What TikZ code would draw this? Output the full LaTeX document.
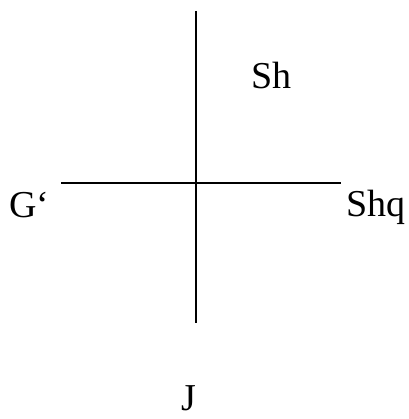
\documentclass[tikz,border=0pt]{standalone}
\usepackage{fontspec}
\setmainfont{Liberation Serif}
\usepackage{tikz}

\begin{document}
\begin{tikzpicture}[x=1pt, y=-1pt, lbl/.style={inner sep=0pt, anchor=base west, font=\fontsize{38}{44}\selectfont}]

\useasboundingbox (0,0) rectangle (408,419);

% axis ends
\coordinate (top) at (196, 11);
\coordinate (bottom) at (196, 323);
\coordinate (left) at (61, 183);
\coordinate (right) at (341, 183);

% labels
\node[lbl] (sh) at (251, 89) {Sh};
\node[lbl] (g) at (9, 217) {G‘};
\node[lbl] (shq) at (346, 216) {Shq};
\node[lbl] (j) at (181, 410) {J};

% axes
\draw[-, line width=1.5pt] (top) -- (bottom);
\draw[-, line width=1.5pt] (left) -- (right);

\end{tikzpicture}
\end{document}
